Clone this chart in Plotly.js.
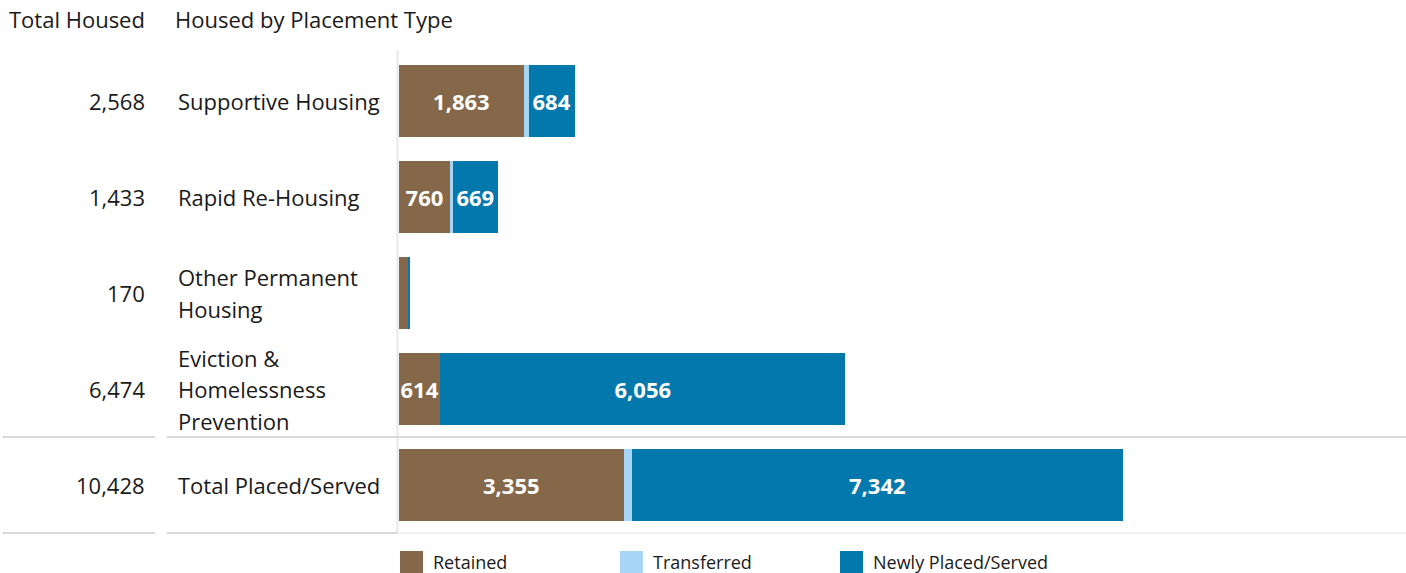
<!DOCTYPE html>
<html>
<head>
<meta charset="utf-8">
<script src="https://cdn.plot.ly/plotly-3.0.1.min.js"></script>
<style>html,body{margin:0;padding:0;background:#fff;} #chart{width:1406px;height:573px;}</style>
</head>
<body>
<div id="chart"></div>
<script>
// ---- data ----
const categories = ['Supportive Housing', 'Rapid Re-Housing', 'Other Permanent Housing', 'Eviction & Homelessness Prevention', 'Total Placed/Served'];
const labelLines = [['Supportive Housing'], ['Rapid Re-Housing'], ['Other Permanent', 'Housing'], ['Eviction &', 'Homelessness', 'Prevention'], ['Total Placed/Served']];
const totalHoused = [2568, 1433, 170, 6474, 10428];
const retained = [1863, 760, 140, 614, 3355];
const transferred = [75, 45, 0, 0, 120];
const newlyPlaced = [684, 669, 30, 6056, 7342];
const retainedLabels = ['1,863', '760', '', '614', '3,355'];
const transferredLabels = ['', '', '', '', ''];
const newlyLabels = ['684', '669', '', '6,056', '7,342'];
const seriesNames = ['Retained', 'Transferred', 'Newly Placed/Served'];
const colors = ['#85684a', '#a6d5f5', '#0378ad'];

const W = 1406, H = 573;
const M = {l: 399, r: 3, t: 53, b: 40};
const PW = W - M.l - M.r, PH = H - M.t - M.b;
const px = x => (x - M.l) / PW;          // pixel -> paper x
const py = y => 1 - (y - M.t) / PH;       // pixel -> paper y

const FONT = '"Open Sans", "Noto Sans", sans-serif';
const TXT = '#1a1a1a';
const FS = 22;

function barTrace(vals, labels, i) {
  return {
    type: 'bar', orientation: 'h', y: categories, x: vals, name: seriesNames[i],
    marker: {color: colors[i], line: {width: 0}},
    text: labels, textposition: 'inside', insidetextanchor: 'middle', constraintext: 'none', textangle: 0,
    textfont: {family: FONT, size: 22, color: '#ffffff', weight: 'bold'},
    hoverinfo: 'x+name', showlegend: false, cliponaxis: false
  };
}
const data = [
  barTrace(retained, retainedLabels, 0),
  barTrace(transferred, transferredLabels, 1),
  barTrace(newlyPlaced, newlyLabels, 2)
];

const annotations = [];
// headers
annotations.push({xref: 'paper', yref: 'paper', x: px(147), y: py(19), xanchor: 'right', yanchor: 'middle',
  text: 'Total Housed', showarrow: false, font: {family: FONT, size: FS, color: TXT}});
annotations.push({xref: 'paper', yref: 'paper', x: px(173), y: py(19), xanchor: 'left', yanchor: 'middle',
  text: 'Housed by Placement Type', showarrow: false, font: {family: FONT, size: FS, color: TXT}});
// totals + labels
categories.forEach((c, i) => {
  annotations.push({xref: 'paper', yref: 'y', x: px(147), y: c, xanchor: 'right', yanchor: 'middle',
    text: totalHoused[i].toLocaleString('en-US'), showarrow: false, font: {family: FONT, size: FS, color: TXT}});
  const lines = labelLines[i];
  lines.forEach((ln, j) => {
    annotations.push({xref: 'paper', yref: 'y', x: px(176), y: c, xanchor: 'left', yanchor: 'middle',
      yshift: -((j - (lines.length - 1) / 2) * 31.5), text: ln, showarrow: false,
      font: {family: FONT, size: FS, color: TXT}});
  });
});
// legend
const legendX = [400, 620, 840];
const shapes = [];
seriesNames.forEach((n, i) => {
  shapes.push({type: 'rect', xref: 'paper', yref: 'paper', x0: px(legendX[i]), x1: px(legendX[i] + 23),
    y0: py(551), y1: py(575), fillcolor: colors[i], line: {width: 0}});
  annotations.push({xref: 'paper', yref: 'paper', x: px(legendX[i] + 31), y: py(562), xanchor: 'left', yanchor: 'middle',
    text: n, showarrow: false, font: {family: FONT, size: 18, color: TXT}});
});
// grid / table lines
const lineC = '#d9d9d9';
function hline(x0, x1, y, c, w) {
  shapes.push({type: 'line', xref: 'paper', yref: 'paper', x0: px(x0), x1: px(x1), y0: py(y), y1: py(y), line: {color: c, width: w}});
}
hline(3, 155, 437, lineC, 2);
hline(167, 1406, 437, lineC, 2);
hline(3, 155, 533, lineC, 2);
hline(167, 398, 533, lineC, 2);
hline(399, 1406, 533, '#f0f0f0', 2);
shapes.push({type: 'line', xref: 'paper', yref: 'paper', x0: px(397.5), x1: px(397.5), y0: py(50), y1: py(533),
  line: {color: '#e8e8e8', width: 2}, layer: 'below'});

const layout = {
  width: W, height: H, margin: M, barmode: 'stack', bargap: 0.24,
  paper_bgcolor: '#ffffff', plot_bgcolor: '#ffffff', showlegend: false,
  font: {family: FONT, color: TXT},
  uniformtext: {mode: 'show', minsize: 22},
  xaxis: {range: [0, 15000], visible: false, showgrid: false, zeroline: false, fixedrange: true},
  yaxis: {type: 'category', categoryorder: 'array', categoryarray: categories, range: [4.5, -0.5],
    showticklabels: false, showgrid: false, zeroline: false, showline: false, ticks: '', fixedrange: true},
  annotations: annotations, shapes: shapes
};
Plotly.newPlot('chart', data, layout, {displayModeBar: false, staticPlot: true});
</script>
</body>
</html>
